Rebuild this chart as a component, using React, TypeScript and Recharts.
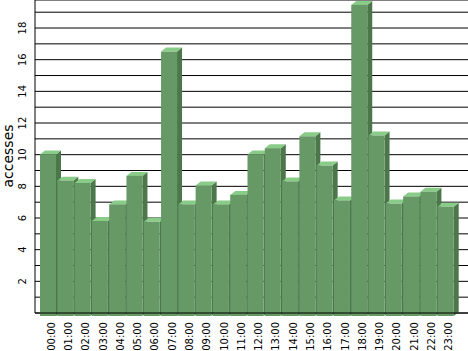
import React from 'react';
import { BarChart, Bar, XAxis, YAxis, CartesianGrid, Label } from 'recharts';

// hourly accesses
const hours = [
  '00:00', '01:00', '02:00', '03:00', '04:00', '05:00', '06:00', '07:00',
  '08:00', '09:00', '10:00', '11:00', '12:00', '13:00', '14:00', '15:00',
  '16:00', '17:00', '18:00', '19:00', '20:00', '21:00', '22:00', '23:00',
];
const accesses = [
  10.2, 8.55, 8.4, 6.0, 7.05, 8.85, 5.95, 16.7,
  7.05, 8.25, 7.05, 7.65, 10.2, 10.6, 8.5, 11.35,
  9.5, 7.3, 19.65, 11.4, 7.1, 7.55, 7.85, 6.9,
];
const gridTicks = [0, 1, 2, 3, 4, 5, 6, 7, 8, 9, 10, 11, 12, 13, 14, 15, 16, 17, 18, 19];
const labelTicks = [2, 4, 6, 8, 10, 12, 14, 16, 18];

const data = hours.map((hour, i) => ({ hour, value: accesses[i] }));

const FONT = '"DejaVu Sans", sans-serif';

// 3D-looking bar: front face dropped a few px below the back plane, side and top faces behind it
const Bar3D = (props: any) => {
  const { x, y, width, height } = props;
  if (x == null || y == null) return null;
  const dx = 5;
  const dy = 4;
  const fy = y + 3;
  return (
    <g>
      <polygon
        points={`${x + width},${fy} ${x + width + dx},${fy - dy} ${x + width + dx},${fy + height - dy} ${x + width},${fy + height}`}
        fill="#4b774b"
      />
      <polygon
        points={`${x},${fy} ${x + dx},${fy - dy} ${x + width + dx},${fy - dy} ${x + width},${fy}`}
        fill="#88cc88"
      />
      <rect x={x} y={fy} width={width} height={height} fill="#669966" />
    </g>
  );
};

const YTick = (props: any) => {
  const { y, payload } = props;
  if (!labelTicks.includes(payload.value)) return null;
  const tx = 26;
  return (
    <text
      x={tx}
      y={y}
      transform={`rotate(-90 ${tx} ${y})`}
      textAnchor="middle"
      fontFamily={FONT}
      fontSize={10}
      fill="#000"
    >
      {payload.value}
    </text>
  );
};

const XTick = (props: any) => {
  const { x, payload } = props;
  const tx = x + 7;
  const ty = 322;
  return (
    <text
      x={tx}
      y={ty}
      transform={`rotate(-90 ${tx} ${ty})`}
      textAnchor="end"
      fontFamily={FONT}
      fontSize={10}
      fill="#000"
    >
      {payload.value}
    </text>
  );
};

export default function App() {
  return (
    <div style={{ position: 'absolute', left: 0, top: 0, width: 468, height: 351, background: '#fff' }}>
      <BarChart
        width={468}
        height={351}
        data={data}
        margin={{ top: 0, right: 0, left: 0, bottom: 0 }}
        barSize={16}
      >
        <CartesianGrid horizontal={true} vertical={false} stroke="#000" strokeWidth={1} />
        <XAxis
          dataKey="hour"
          height={38}
          padding={{ left: 4, right: 14 }}
          axisLine={{ stroke: '#000' }}
          tickLine={false}
          tickSize={0}
          interval={0}
          tick={<XTick />}
        />
        <YAxis
          width={35}
          domain={[0, 19.77]}
          ticks={gridTicks}
          interval={0}
          axisLine={{ stroke: '#000' }}
          tickLine={false}
          tick={<YTick />}
        >
          <Label
            content={() => (
              <text
                x={13}
                y={156}
                transform="rotate(-90 13 156)"
                textAnchor="middle"
                fontFamily={FONT}
                fontSize={14}
                fill="#000"
              >
                accesses
              </text>
            )}
          />
        </YAxis>
        <Bar dataKey="value" shape={<Bar3D />} isAnimationActive={false} />
      </BarChart>
    </div>
  );
}
